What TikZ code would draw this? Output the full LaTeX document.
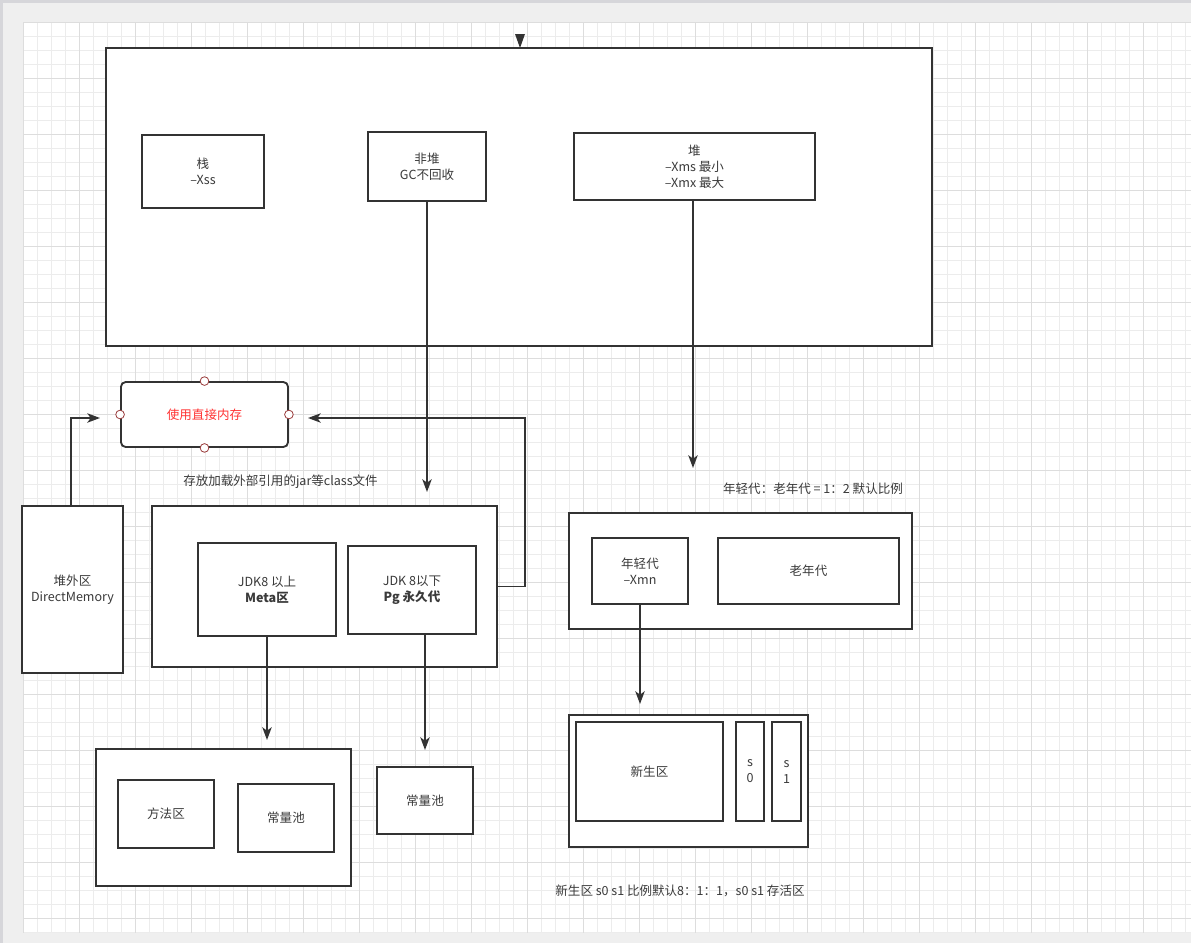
\documentclass[tikz,border=0pt]{standalone}
\usepackage{fontspec}
\setmainfont{Noto Sans CJK SC}
\usetikzlibrary{arrows.meta,calc}

\definecolor{ink}{HTML}{333333}
\definecolor{txt}{HTML}{3A3A3A}
\definecolor{canvas}{HTML}{EFEFEF}
\definecolor{rim}{HTML}{D6D6DA}
\definecolor{gminor}{HTML}{ECECEC}
\definecolor{gmajor}{HTML}{DDDDDD}
\definecolor{alert}{HTML}{FF3333}
\definecolor{portc}{HTML}{9A3B3B}

\newcommand{\lblfont}{\fontsize{9.4}{12}\selectfont}

% \bx[options]{name}{x1}{y1}{x2}{y2}{text}: box given by its pixel corners
\newcommand{\bx}[7][]{%
  \node[box,#1,minimum width={(#5-#3)*0.75pt},minimum height={(#6-#4)*0.75pt}]
    (#2) at ({(#3+#5)/2},{(#4+#6)/2}) {#7};}

\tikzset{
  box/.style={draw=ink, line width=1.4pt, fill=white, inner sep=0pt,
              align=center, font=\lblfont, text=txt},
  rbox/.style={rounded corners=3.5pt, text=alert},
  port/.style={circle, draw=portc, fill=white, line width=0.6pt,
               minimum size=6.5pt, inner sep=0pt},
  note/.style={font=\lblfont, text=txt, inner sep=0pt},
  arr/.style={draw=ink, line width=1.4pt,
              -{Stealth[length=9.5pt,width=7pt,inset=2.5pt]}}
}

\begin{document}
\begin{tikzpicture}[x=0.75pt,y=-0.75pt]
\useasboundingbox (0,0) rectangle (1191,943);

% page background and grid paper
\fill[canvas] (0,0) rectangle (1191,943);
\fill[rim] (0,0) rectangle (1191,3);
\fill[rim] (0,0) rectangle (3,943);
\fill[white] (23.3,22.3) rectangle (1191,932.7);
\foreach \i in {0,...,83}
  \draw[gminor, line width=0.75pt] ({23.3+14*\i},22.3) -- ({23.3+14*\i},932.7);
\foreach \j in {0,...,65}
  \draw[gminor, line width=0.75pt] (23.3,{22.3+14*\j}) -- (1191,{22.3+14*\j});
\foreach \i in {0,4,...,80}
  \draw[gmajor, line width=0.75pt] ({23.3+14*\i},22.3) -- ({23.3+14*\i},932.7);
\foreach \j in {0,4,...,64}
  \draw[gmajor, line width=0.75pt] (23.3,{22.3+14*\j}) -- (1191,{22.3+14*\j});

% JVM runtime area
\bx{jvm}{106}{48}{932}{346}{}
\fill[ink] (515,34) -- (525,34) -- (520,48) -- cycle;

\bx{stack}{142}{135}{264}{208}{栈\\–Xss}
\bx{nonheap}{368}{132}{486}{201}{非堆\\GC不回收}
\bx{heap}{574}{133}{815}{200}{堆\\–Xms 最小\\–Xmx 最大}

% direct memory
\bx[rbox]{direct}{121}{382}{288}{447}{使用直接内存}
\foreach \a in {north,south,east,west}
  \node[port] (port-\a) at (direct.\a) {};

\bx{offheap}{22}{506}{123}{673}{堆外区\\DirectMemory}

% non-heap: metaspace / permanent generation
\node[note] (jarnote) at (280.5,481.5) {存放加载外部引用的jar等class文件};
\bx{nh}{152}{506}{497}{667}{}
\bx{meta}{198}{543}{336}{636}{JDK8 以上\\\textbf{Meta区}}
\bx{perm}{348}{546}{476}{634}{JDK 8以下\\\textbf{Pg 永久代}}

\bx{metaarea}{96}{749}{351}{886}{}
\bx{method}{118}{780}{214}{848}{方法区}
\bx{pool1}{238}{784}{334}{852}{常量池}
\bx{pool2}{377}{767}{473}{834}{常量池}

% heap: generations
\node[note] (ratio1) at (813,489) {年轻代：老年代 = 1：2 默认比例};
\bx{gens}{569}{513}{912}{629}{}
\bx{young}{592}{538}{688}{604}{年轻代\\–Xmn}
\bx{old}{718}{538}{899}{604}{老年代}

\bx{youngarea}{569}{715}{808}{847}{}
\bx{eden}{576}{722}{723}{821}{新生区}
\bx{s0}{736}{722}{764}{821}{s\\0}
\bx{s1}{772}{722}{801}{821}{s\\1}
\node[note] (ratio2) at (680,891) {新生区 s0 s1 比例默认8：1：1，s0 s1 存活区};

% arrow end points
\coordinate (nhTip) at (427,492);
\coordinate (heapTip) at (693,468);
\coordinate (dmRight) at (308,418);
\coordinate (dmLeft) at (100,418);
\coordinate (metaTip) at (267,740);
\coordinate (permTip) at (425,750);
\coordinate (youngTip) at (640,704);

% connectors
\draw[arr] (nonheap.south) -- (nhTip);
\draw[arr] (heap.south -| heapTip) -- (heapTip);
\draw[arr] (nh.east) -- ++(27,0) |- (dmRight);
\draw[arr] (offheap.north -| 71,0) |- (dmLeft);
\draw[arr] (meta.south) -- (metaTip);
\draw[arr] (perm.south -| permTip) -- (permTip);
\draw[arr] (young.south) -- (youngTip);
\end{tikzpicture}
\end{document}
